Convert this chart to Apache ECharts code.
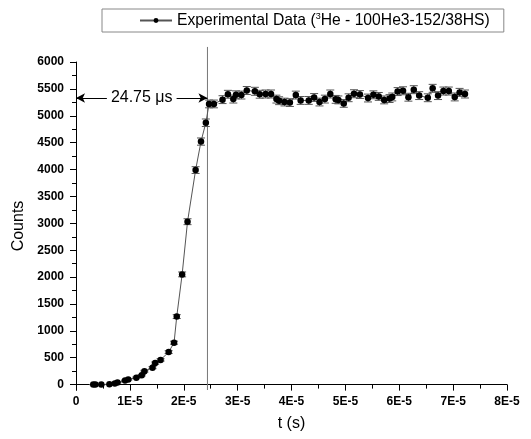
<!DOCTYPE html>
<html>
<head>
<meta charset="utf-8">
<script src="https://cdn.jsdelivr.net/npm/echarts@6/dist/echarts.min.js"></script>
<style>html,body{margin:0;padding:0;background:#fff}#c{width:531px;height:439px}</style>
</head>
<body>
<div id="c"></div>
<script>
// time in units of 1E-5 s
const times = [0.32,0.36,0.47,0.62,0.72,0.77,0.91,0.97,1.12,1.22,
  1.27,1.42,1.47,1.57,1.72,1.82,1.87,1.97,2.07,2.22,
  2.32,2.41,2.47,2.56,2.72,2.82,2.92,2.97,3.07,3.17,
  3.32,3.41,3.52,3.62,3.72,3.77,3.87,3.97,4.08,4.17,
  4.32,4.42,4.52,4.62,4.72,4.82,4.87,4.97,5.06,5.16,
  5.27,5.42,5.52,5.62,5.72,5.82,5.87,5.97,6.07,6.17,
  6.27,6.37,6.53,6.62,6.72,6.82,6.92,7.03,7.12,7.22];
const counts = [0,0,0,5,20,40,75,95,130,175,
  250,315,400,460,605,780,1265,2050,3030,3990,
  4520,4870,5220,5220,5300,5400,5310,5390,5385,5470,
  5455,5400,5405,5405,5310,5280,5255,5245,5385,5285,
  5285,5340,5255,5310,5405,5305,5295,5230,5335,5410,
  5395,5330,5390,5360,5295,5320,5350,5450,5465,5345,
  5485,5375,5335,5510,5375,5460,5460,5350,5435,5405];
const errs = [2,2,2,3,5,6,9,10,11,13,
  16,18,20,21,25,28,36,45,55,63,
  67,70,72,72,73,73,73,73,73,74,
  74,73,74,74,73,73,72,72,73,73,
  73,73,72,73,74,73,73,72,73,74,
  73,73,73,73,73,73,73,74,74,73,
  74,73,73,74,73,74,74,73,74,74];
const yTickLabels = [0,500,1000,1500,2000,2500,3000,3500,4000,4500,5000,5500,6000];
const yMinorTicks = [250,750,1250,1750,2250,2750,3250,3750,4250,4750,5250,5750];
const markerTime = 2.44;      // vertical line position, 1E-5 s
const arrowLevel = 5330;      // counts level of the 24.75 µs arrow
const arrowLabel = '24.75 μs';
const seriesName = 'Experimental Data (3He - 100He3-152/38HS)';

const FONT = '"Liberation Sans", Arial, sans-serif';
const pts = times.map((t, i) => [t * 1e-5, counts[i]]);
const ebData = times.map((t, i) => [t * 1e-5, counts[i], errs[i]]);

const chart = echarts.init(document.getElementById('c'), null, {renderer: 'canvas'});
const axisCommon = {
  axisLine: {show: true, lineStyle: {color: '#000', width: 1}},
  splitLine: {show: false}
};
chart.setOption({
  animation: false,
  backgroundColor: '#fff',
  textStyle: {fontFamily: FONT},
  grid: {left: 76, right: 24, top: 62, bottom: 49, containLabel: false},
  legend: {
    data: [seriesName],
    left: 102, top: 9,
    padding: [3, 14, 3, 37],
    itemWidth: 32, itemHeight: 6,
    borderColor: '#888', borderWidth: 1, borderRadius: 0,
    formatter: function () {
      return '{a|Experimental Data (}{s|3}{a|He - 100He3-152/38HS)}';
    },
    textStyle: {
      fontFamily: FONT, color: '#000',
      rich: {
        a: {fontSize: 15.7, fontFamily: FONT, color: '#000', lineHeight: 17},
        s: {fontSize: 9, fontFamily: FONT, color: '#000', padding: [0, 0, 8, 0], lineHeight: 17}
      }
    }
  },
  xAxis: Object.assign({}, axisCommon, {
    type: 'value', min: 0, max: 8e-5, interval: 1e-5,
    name: 't (s)', nameLocation: 'middle', nameGap: 26,
    nameTextStyle: {fontSize: 16, fontFamily: FONT, color: '#000'},
    axisTick: {show: true, inside: false, length: 6, lineStyle: {color: '#000'}},
    minorTick: {show: true, splitNumber: 2, length: 4, lineStyle: {color: '#000'}},
    axisLabel: {
      margin: 6, fontSize: 12, fontWeight: 'bold', fontFamily: FONT, color: '#000',
      formatter: function (v) { const k = Math.round(v * 1e5); return k === 0 ? '0' : k + 'E-5'; }
    }
  }),
  yAxis: [
    Object.assign({}, axisCommon, {
      type: 'value', min: -100, max: 6000,
      name: 'Counts', nameLocation: 'middle', nameGap: 42,
      nameTextStyle: {fontSize: 16, fontFamily: FONT, color: '#000'},
      axisTick: {show: true, inside: false, length: 6, customValues: yTickLabels, lineStyle: {color: '#000'}},
      axisLabel: {
        margin: 12, fontSize: 12, fontWeight: 'bold', fontFamily: FONT, color: '#000',
        customValues: yTickLabels,
        formatter: function (v) { return String(v); }
      }
    }),
    {
      type: 'value', min: -100, max: 6000, position: 'left',
      axisLine: {show: false}, splitLine: {show: false},
      axisLabel: {show: false},
      axisTick: {show: true, inside: false, length: 4, customValues: yMinorTicks, lineStyle: {color: '#000'}}
    }
  ],
  series: [
    {
      type: 'custom', name: 'err', z: 2, silent: true, clip: false,
      data: ebData,
      encode: {x: 0, y: 1},
      renderItem: function (params, api) {
        const x = api.value(0), y = api.value(1), e = api.value(2);
        const top = api.coord([x, y + e]);
        const bot = api.coord([x, y - e]);
        const w = 4;
        const st = {stroke: '#555', lineWidth: 1};
        return {
          type: 'group',
          children: [
            {type: 'line', shape: {x1: top[0], y1: top[1], x2: bot[0], y2: bot[1]}, style: st},
            {type: 'line', shape: {x1: top[0] - w, y1: top[1], x2: top[0] + w, y2: top[1]}, style: st},
            {type: 'line', shape: {x1: bot[0] - w, y1: bot[1], x2: bot[0] + w, y2: bot[1]}, style: st}
          ]
        };
      }
    },
    {
      type: 'line', name: seriesName, z: 3, clip: false,
      data: pts,
      symbol: 'circle', symbolSize: 6.5, showSymbol: true,
      itemStyle: {color: '#000'},
      lineStyle: {color: '#555', width: 1},
      markLine: {
        silent: true,
        symbol: ['arrow', 'arrow'], symbolSize: [7, 9],
        lineStyle: {color: '#000', width: 1, type: 'solid'},
        label: {
          show: true, position: 'middle', formatter: arrowLabel,
          fontSize: 16, fontFamily: FONT, color: '#000',
          backgroundColor: '#fff', padding: [2, 4], distance: 0,
          offset: [0, 10]
        },
        data: [[{coord: [0, arrowLevel]}, {coord: [markerTime * 1e-5, arrowLevel]}]]
      }
    }
  ]
});

// vertical marker line through the library's own scale
const pBot = chart.convertToPixel({xAxisIndex: 0, yAxisIndex: 0}, [markerTime * 1e-5, -100]);
const pTop = chart.convertToPixel({xAxisIndex: 0, yAxisIndex: 0}, [markerTime * 1e-5, 6280]);
chart.setOption({
  graphic: [{
    type: 'line', z: 1,
    shape: {x1: pTop[0], y1: pTop[1], x2: pBot[0], y2: pBot[1]},
    style: {stroke: '#777', lineWidth: 1}
  }]
});
</script>
</body>
</html>
